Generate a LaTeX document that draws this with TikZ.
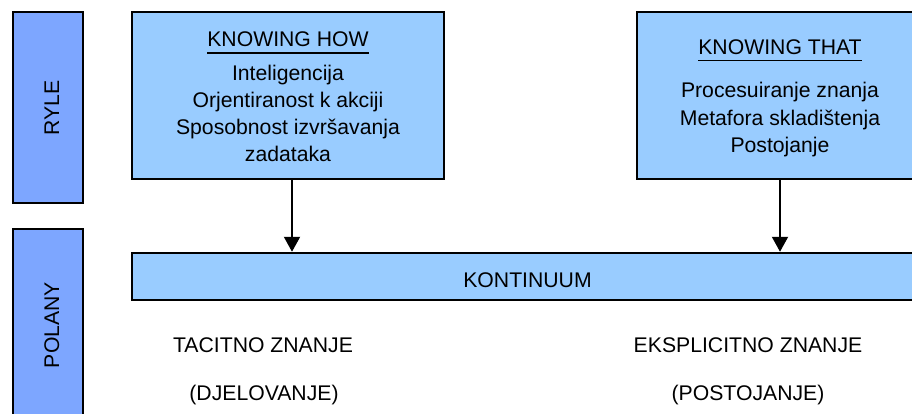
\documentclass[tikz,border=0pt]{standalone}
\usepackage{fontspec}
\setmainfont{Liberation Sans}
\usetikzlibrary{arrows.meta}
\definecolor{paleblue}{RGB}{153,204,255}
\definecolor{sideblue}{RGB}{125,166,255}
\tikzset{
  box/.style={draw=black, line width=2pt, fill=paleblue, rectangle, inner sep=0pt},
  sidebox/.style={draw=black, line width=2pt, fill=sideblue, rectangle, inner sep=0pt},
  txt/.style={inner sep=0pt, anchor=base, font=\fontsize{21.2}{24}\selectfont},
  sidetxt/.style={txt, rotate=90},
  uline/.style={line width=1.3pt},
  arr/.style={line width=2pt, -{Triangle[width=16pt,length=15pt]}}
}
\begin{document}
\begin{tikzpicture}[x=1pt,y=-1pt]
\useasboundingbox (0,0) rectangle (912,414);
\clip (0,0) rectangle (912,414);
\fill[white] (0,0) rectangle (912,414);

% side labels
\node[sidebox, minimum width=70.5pt, minimum height=191pt] (ryle) at (47.75,107.75) {};
\node[sidetxt] (ryletxt) at (59,108) {RYLE};
\node[sidebox, minimum width=70.5pt, minimum height=201pt] (polany) at (47.75,329.5) {};
\node[sidetxt] (polanytxt) at (59,325) {POLANY};

% knowing how
\node[box, minimum width=311.5pt, minimum height=167pt] (kh) at (287.75,96) {};
\node[txt] (khtitle) at (288,47) {KNOWING HOW};
\draw[uline] ([yshift=-6pt]khtitle.base west) -- ([yshift=-6pt]khtitle.base east);
\node[txt] (kh1) at (288,81) {Inteligencija};
\node[txt] (kh2) at (288,108) {Orjentiranost k akciji};
\node[txt] (kh3) at (288,135) {Sposobnost izvršavanja};
\node[txt] (kh4) at (288,162) {zadataka};

% knowing that
\node[box, minimum width=288.5pt, minimum height=167pt] (kt) at (780.75,96) {};
\node[txt] (kttitle) at (780,55) {KNOWING THAT};
\draw[uline] ([yshift=-5.5pt]kttitle.base west) -- ([yshift=-5.5pt]kttitle.base east);
\node[txt] (kt1) at (780,98) {Procesuiranje znanja};
\node[txt] (kt2) at (780,125.5) {Metafora skladištenja};
\node[txt] (kt3) at (780,153) {Postojanje};

% continuum bar
\node[box, minimum width=793pt, minimum height=47pt] (kont) at (528.5,276.25) {};
\node[txt] (konttxt) at (527.5,287) {KONTINUUM};

% arrows into the bar
\draw[arr] ([xshift=4.25pt]kh.south) -- ([xshift=4.25pt]kh.south |- kont.north);
\draw[arr] ([xshift=-0.75pt]kt.south) -- ([xshift=-0.75pt]kt.south |- kont.north);

% poles of the continuum
\node[txt] (tac) at (263,352) {TACITNO ZNANJE};
\node[txt] (tacb) at (264,400) {(DJELOVANJE)};
\node[txt] (eks) at (748,352) {EKSPLICITNO ZNANJE};
\node[txt] (eksb) at (748,400) {(POSTOJANJE)};
\end{tikzpicture}
\end{document}
